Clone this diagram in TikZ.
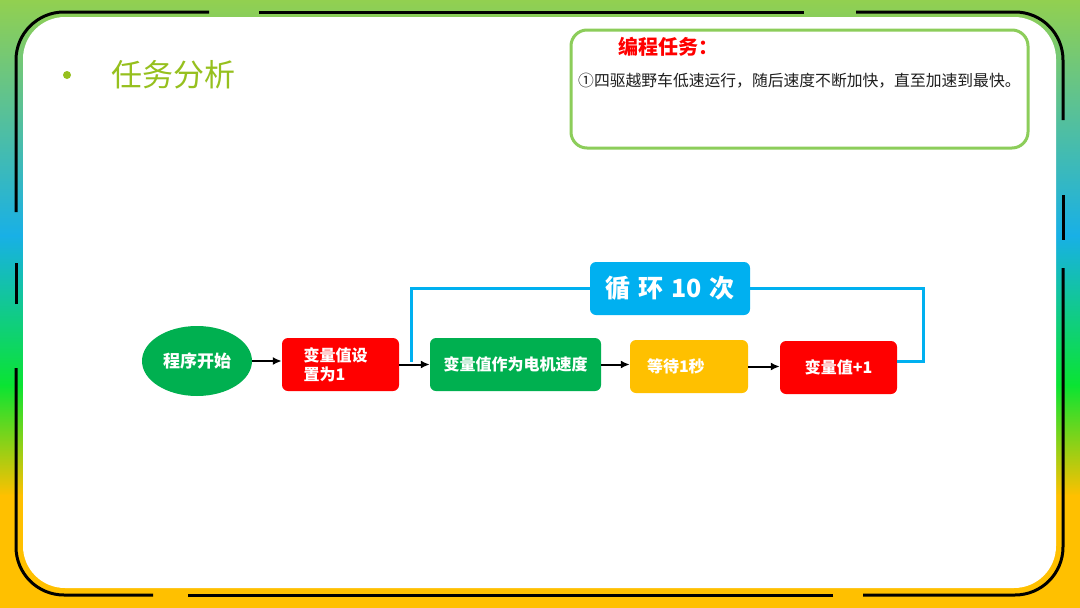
\documentclass[tikz,border=0pt]{standalone}
\usepackage{fontspec}
\setmainfont{Noto Sans CJK SC}
\usetikzlibrary{shapes.geometric,arrows.meta}

\definecolor{bgtop}{RGB}{146,208,80}
\definecolor{bgcyan}{RGB}{24,176,230}
\definecolor{bggreen}{RGB}{10,228,50}
\definecolor{bgyellow}{RGB}{255,192,0}
\definecolor{titlegreen}{RGB}{150,192,30}
\definecolor{taskgreen}{RGB}{140,205,90}
\definecolor{flowgreen}{RGB}{0,176,80}
\definecolor{flowred}{RGB}{255,0,0}
\definecolor{flowyellow}{RGB}{255,192,0}
\definecolor{flowblue}{RGB}{0,176,240}
\definecolor{bodytext}{RGB}{30,30,30}

\begin{document}
\begin{tikzpicture}[x=1pt,y=-1pt,
  frame/.style={line width=3pt,rounded corners=48pt},
  block/.style={rectangle,rounded corners=6pt,minimum height=53pt,inner sep=0pt,
    text=white,font=\fontsize{16}{19}\selectfont\bfseries},
  startnode/.style={ellipse,fill=flowgreen,minimum width=110pt,minimum height=70pt,
    inner sep=0pt,text=white,font=\fontsize{17}{19}\selectfont\bfseries},
  flowarrow/.style={-{Latex[length=9pt,width=8pt]},line width=2pt},
  loopline/.style={flowblue,line width=3pt}]

  \useasboundingbox (0,0) rectangle (1080,608);

  %% background
  \shade[top color=bgtop,bottom color=bgcyan] (0,0) rectangle (1080,236);
  \shade[top color=bgcyan,bottom color=bggreen] (0,235) rectangle (1080,386);
  \shade[top color=bggreen,bottom color=bgyellow] (0,385) rectangle (1080,496);
  \fill[bgyellow] (0,495) rectangle (1080,608);

  %% frame
  \draw[frame] (16,212) -- (16,12) -- (209,12);
  \draw[frame] (259,12) -- (804,12);
  \draw[frame] (856,12) -- (1063,12) -- (1063,120);
  \draw[frame] (1063,195) -- (1063,240);
  \draw[frame] (1063,268) -- (1063,595) -- (863,595);
  \draw[frame] (833,595) -- (188,595);
  \draw[frame] (153,595) -- (16,595) -- (16,368);
  \draw[frame] (16,304) -- (16,263);
  \fill[white,rounded corners=42pt] (23,17) rectangle (1056,588);

  %% title
  \fill[titlegreen] (67,75) circle (4pt);
  \node[anchor=west,inner sep=0pt,text=titlegreen,font=\fontsize{31}{31}\selectfont]
    (title) at (111,75) {任务分析};

  %% task
  \node[draw=taskgreen,line width=3pt,rounded corners=16pt,minimum width=457pt,
    minimum height=118pt] (task) at (799.5,89) {};
  \node[text=flowred,font=\fontsize{20}{20}\selectfont\bfseries] (taskhead) at (668,47) {编程任务：};
  \node[anchor=west,inner sep=0pt,text=bodytext,font=\fontsize{15.8}{16}\selectfont]
    (tasktext) at (578,81) {①四驱越野车低速运行，随后速度不断加快，直至加速到最快。};

  %% flow
  \node[startnode] (start) at (197,361) {程序开始};
  \node[block,fill=flowred,minimum width=117pt,text width=74pt,align=left] (init) at (340.5,364.5) {变量值设\\置为1};
  \node[block,fill=flowgreen,minimum width=171pt] (speed) at (515.5,364.5) {变量值作为电机速度};
  \node[block,fill=flowyellow,minimum width=118pt,text width=84pt,align=left] (wait) at (689,366.5) {等待1秒};
  \node[block,fill=flowred,minimum width=117pt] (inc) at (838.5,367.5) {变量值+1};
  \node[block,fill=flowblue,minimum width=160pt,font=\fontsize{25}{25}\selectfont\bfseries] (loop) at (670,288.5) {循\hspace{8pt}环\hspace{8pt}10\hspace{8pt}次};

  \coordinate (loopin) at (411,362);
  \coordinate (loopout) at (897,361);

  \draw[loopline] (loop.west) -| (loopin);
  \draw[loopline] (loopout) -- ++(26,0) |- (loop.east);

  \draw[flowarrow] (start.east) -- (start.east -| init.west); %% start->init
  \draw[flowarrow] (init.east) -- (init.east -| speed.west); %% init->speed
  \draw[flowarrow] (speed.east) -- (speed.east -| wait.west); %% speed->wait
  \draw[flowarrow] (wait.east) -- (wait.east -| inc.west); %% wait->inc
\end{tikzpicture}
\end{document}
